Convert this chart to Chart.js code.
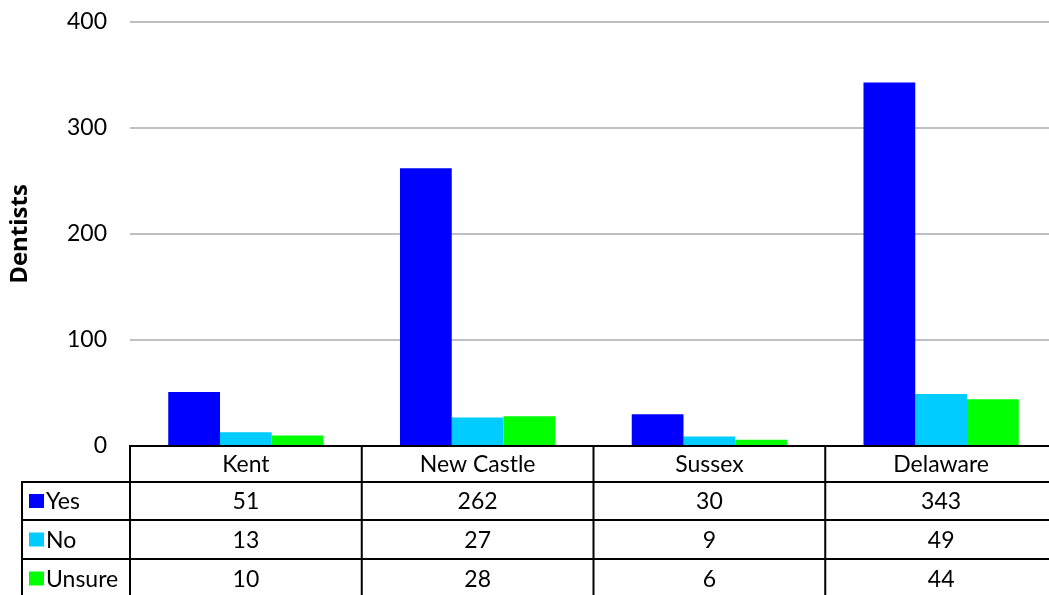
<!DOCTYPE html>
<html lang="en">
<head>
    <meta charset="UTF-8">
    <title>Dentists by county</title>
    <script src="https://cdn.jsdelivr.net/npm/chart.js"></script>
    <style>
        html, body {
            margin: 0;
            padding: 0;
            background: #fff;
            overflow: hidden;
        }
        #chartCanvas {
            display: block;
        }
    </style>
</head>
<body>
    <canvas id="chartCanvas" width="1057" height="595"></canvas>

    <script>
        // data
        const categories = ["Kent", "New Castle", "Sussex", "Delaware"];
        const seriesNames = ["Yes", "No", "Unsure"];
        const yesValues = [51, 262, 30, 343];
        const noValues = [13, 27, 9, 49];
        const unsureValues = [10, 28, 6, 44];
        const yAxisTitle = "Dentists";

        const seriesColors = ["#0000ff", "#00ccff", "#00ff00"];
        const fontFamily = "Lato, 'Open Sans', sans-serif";

        // draws the data table under the plot, columns taken from the x scale
        const tablePlugin = {
            id: "dataTable",
            afterDraw(chart) {
                const ctx = chart.ctx;
                const xs = chart.scales.x;
                const area = chart.chartArea;
                const colW = xs.getPixelForValue(1) - xs.getPixelForValue(0);
                const leftEdge = xs.getPixelForValue(0) - colW / 2;
                const rightEdge = xs.getPixelForValue(categories.length - 1) + colW / 2;
                const labelLeft = 22;
                const rows = [area.bottom, area.bottom + 36, area.bottom + 74, area.bottom + 113, area.bottom + 152];
                const bottom = chart.height + 5;

                ctx.save();
                ctx.strokeStyle = "#000";
                ctx.lineWidth = 2;
                ctx.beginPath();
                // axis line / top of table
                ctx.moveTo(leftEdge - 1, rows[0]);
                ctx.lineTo(rightEdge, rows[0]);
                for (let r = 1; r <= 3; r++) {
                    ctx.moveTo(labelLeft - 1, rows[r]);
                    ctx.lineTo(rightEdge, rows[r]);
                }
                for (let i = 0; i <= categories.length; i++) {
                    const xp = leftEdge + i * colW;
                    ctx.moveTo(xp, rows[0]);
                    ctx.lineTo(xp, bottom);
                }
                ctx.moveTo(labelLeft, rows[1]);
                ctx.lineTo(labelLeft, bottom);
                ctx.stroke();

                ctx.fillStyle = "#000";
                ctx.font = "23px " + fontFamily;
                ctx.textAlign = "center";
                ctx.textBaseline = "middle";
                categories.forEach((c, i) => {
                    ctx.fillText(c, xs.getPixelForValue(i), (rows[0] + rows[1]) / 2 + 1);
                });

                chart.data.datasets.forEach((ds, r) => {
                    const yMid = (rows[r + 1] + rows[r + 2]) / 2 + 1;
                    ds.data.forEach((v, i) => {
                        ctx.fillStyle = "#000";
                        ctx.textAlign = "center";
                        ctx.fillText(String(v), xs.getPixelForValue(i), yMid);
                    });
                    ctx.fillStyle = ds.backgroundColor;
                    ctx.fillRect(29, yMid - 8, 15, 14);
                    ctx.fillStyle = "#000";
                    ctx.textAlign = "left";
                    ctx.fillText(ds.label, 46, yMid);
                });
                ctx.restore();
            }
        };

        const ctx = document.getElementById("chartCanvas").getContext("2d");
        const chart = new Chart(ctx, {
            type: "bar",
            data: {
                labels: categories,
                datasets: [
                    { label: seriesNames[0], data: yesValues, backgroundColor: seriesColors[0] },
                    { label: seriesNames[1], data: noValues, backgroundColor: seriesColors[1] },
                    { label: seriesNames[2], data: unsureValues, backgroundColor: seriesColors[2] }
                ]
            },
            options: {
                responsive: false,
                animation: false,
                layout: {
                    padding: { top: 22, bottom: 149, left: 0, right: 0 }
                },
                datasets: {
                    bar: {
                        categoryPercentage: 0.67,
                        barPercentage: 1.0,
                        borderWidth: 0
                    }
                },
                plugins: {
                    legend: { display: false },
                    tooltip: { enabled: false }
                },
                scales: {
                    x: {
                        display: false
                    },
                    y: {
                        min: 0,
                        max: 400,
                        afterFit(scale) {
                            scale.width = 130;
                            // keep the plot top fixed, labels may overhang
                            scale.paddingTop = 0;
                            scale.paddingBottom = 0;
                        },
                        ticks: {
                            stepSize: 100,
                            color: "#000",
                            padding: 23,
                            font: { family: fontFamily, size: 23 }
                        },
                        grid: {
                            color: "#c0c0c0",
                            lineWidth: 2,
                            drawTicks: false
                        },
                        border: { display: false },
                        title: {
                            display: true,
                            text: yAxisTitle,
                            color: "#000",
                            padding: { top: 6, bottom: 0 },
                            font: { family: "'Open Sans', sans-serif", size: 24, weight: "bold" }
                        }
                    }
                }
            },
            plugins: [tablePlugin]
        });
    </script>
</body>
</html>
